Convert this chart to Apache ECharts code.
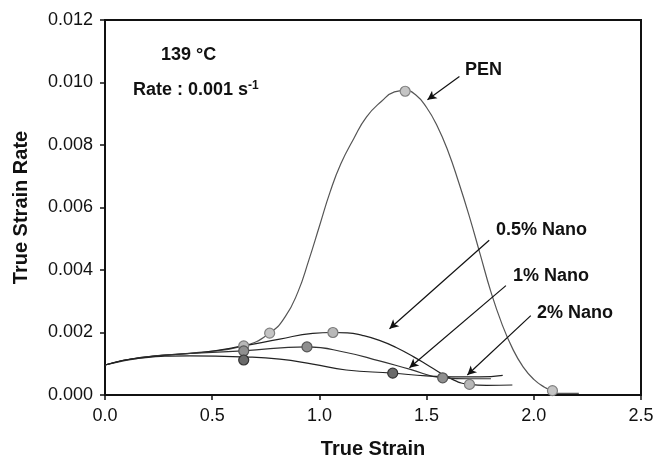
<!DOCTYPE html>
<html>
<head>
<meta charset="utf-8">
<script src="https://cdn.jsdelivr.net/npm/echarts@6/dist/echarts.min.js"></script>
<style>
  html, body { margin: 0; padding: 0; background: #fff; }
  #chart { width: 654px; height: 456px; }
</style>
</head>
<body>
<div id="chart"></div>
<script>
// curve data (true strain, true strain rate)
const penX = [0, 0.2, 0.45, 0.647, 0.768, 0.84, 0.9, 0.95, 1.0, 1.05, 1.1, 1.16, 1.22, 1.29, 1.35, 1.40, 1.45, 1.5, 1.55, 1.6, 1.65, 1.7, 1.75, 1.8, 1.85, 1.9, 1.95, 2.0, 2.05, 2.087, 2.11, 2.21];
const penY = [0.00096, 0.00122, 0.00137, 0.00157, 0.00198, 0.0025, 0.0033, 0.0043, 0.0054, 0.0065, 0.0074, 0.0082, 0.0089, 0.0094, 0.0097, 0.00975, 0.0096, 0.0092, 0.0086, 0.0078, 0.0068, 0.0057, 0.0045, 0.0033, 0.0023, 0.0015, 0.0009, 0.0005, 0.00025, 0.00014, 0.00005, 0.00005];

const nano05X = [0, 0.163, 0.45, 0.647, 0.815, 0.969, 1.063, 1.13, 1.2, 1.28, 1.358, 1.44, 1.513, 1.62, 1.70, 1.78, 1.9];
const nano05Y = [0.00096, 0.0012, 0.00136, 0.00157, 0.00179, 0.00197, 0.0020, 0.00199, 0.00191, 0.00175, 0.00152, 0.00122, 0.00092, 0.0005, 0.00034, 0.00031, 0.00032];

const nano1X = [0, 0.163, 0.45, 0.642, 0.942, 1.125, 1.28, 1.42, 1.575, 1.7, 1.8];
const nano1Y = [0.00096, 0.0012, 0.00135, 0.00141, 0.00154, 0.00136, 0.00109, 0.00083, 0.00055, 0.00052, 0.00052];

const nano2X = [0, 0.163, 0.396, 0.642, 0.815, 0.969, 1.125, 1.342, 1.498, 1.62, 1.746, 1.855];
const nano2Y = [0.00096, 0.00118, 0.00125, 0.00122, 0.00115, 0.00099, 0.0008, 0.0007, 0.00061, 0.00058, 0.00058, 0.00063];

// circle markers on the curves
const penMarkX = [0.768, 1.40, 2.087];
const penMarkY = [0.00198, 0.00972, 0.00014];
const nano05MarkX = [0.647, 1.063, 1.70];
const nano05MarkY = [0.00157, 0.0020, 0.00034];
const nano1MarkX = [0.647, 0.942, 1.575];
const nano1MarkY = [0.00141, 0.00154, 0.00055];
const nano2MarkX = [0.647, 1.342];
const nano2MarkY = [0.00112, 0.0007];

// arrows from the labels to the curves: [x1, y1, x2, y2]
const arrowPen = [1.653, 0.01019, 1.504, 0.00945];
const arrow05 = [1.792, 0.00495, 1.327, 0.00212];
const arrow1 = [1.870, 0.0035, 1.420, 0.00087];
const arrow2 = [1.986, 0.00254, 1.69, 0.00064];

const xTicks = [0, 0.5, 1.0, 1.5, 2.0, 2.5];
const yTicks = [0, 0.002, 0.004, 0.006, 0.008, 0.010, 0.012];

const FONT = 'Liberation Sans, Arial, sans-serif';

function pairs(xs, ys) {
  return xs.map((x, i) => [x, ys[i]]);
}

function curve(name, xs, ys, color) {
  return {
    name: name,
    type: 'line',
    data: pairs(xs, ys),
    smooth: 0.5,
    showSymbol: false,
    lineStyle: { color: color, width: 1.2 },
    z: 2
  };
}

function marks(name, xs, ys, fill, border) {
  return {
    name: name,
    type: 'scatter',
    data: pairs(xs, ys),
    symbolSize: 10,
    itemStyle: { color: fill, borderColor: border, borderWidth: 1.2, opacity: 1 },
    z: 4
  };
}

function arrow(a) {
  return [
    { coord: [a[0], a[1]], symbol: 'none' },
    { coord: [a[2], a[3]], symbol: 'arrow' }
  ];
}

const chart = echarts.init(document.getElementById('chart'));

const series = [
  curve('PEN', penX, penY, '#555'),
  curve('0.5% Nano', nano05X, nano05Y, '#222'),
  curve('1% Nano', nano1X, nano1Y, '#333'),
  curve('2% Nano', nano2X, nano2Y, '#222'),
  marks('PEN m', penMarkX, penMarkY, '#c4c4c4', '#808080'),
  marks('0.5 m', nano05MarkX, nano05MarkY, '#b8b8b8', '#7a7a7a'),
  marks('1 m', nano1MarkX, nano1MarkY, '#8f8f8f', '#555'),
  marks('2 m', nano2MarkX, nano2MarkY, '#6a6a6a', '#333')
];

// arrows hang off the first series
series[0].markLine = {
  silent: true,
  symbolSize: [7, 9],
  label: { show: false },
  lineStyle: { color: '#111', width: 1.2, type: 'solid' },
  data: [arrow(arrowPen), arrow(arrow05), arrow(arrow1), arrow(arrow2)]
};

const labelStyle = { fontFamily: FONT, fontWeight: 'bold', fontSize: 18, fill: '#111', verticalAlign: 'middle', align: 'left' };

function note(text, x, y, extra) {
  return { type: 'text', x: x, y: y, style: Object.assign({ text: text }, labelStyle, extra || {}) };
}

chart.setOption({
  animation: false,
  backgroundColor: '#fff',
  grid: {
    left: 105, right: 13, top: 20, bottom: 61,
    outerBoundsMode: 'none',
    show: true, borderColor: '#111', borderWidth: 2
  },
  xAxis: {
    type: 'value',
    min: 0, max: 2.5, interval: 0.5,
    name: 'True Strain',
    nameLocation: 'middle',
    nameGap: 44,
    nameTextStyle: { fontFamily: FONT, fontWeight: 'bold', fontSize: 20, color: '#111' },
    axisLine: { show: true, lineStyle: { color: '#111', width: 2 } },
    axisTick: { show: true, inside: false, length: 5, lineStyle: { color: '#111', width: 1.5 } },
    axisLabel: {
      fontFamily: FONT, fontSize: 18, color: '#111', margin: 12,
      formatter: v => xTicks.includes(+v.toFixed(1)) ? v.toFixed(1) : ''
    },
    splitLine: { show: false }
  },
  yAxis: {
    type: 'value',
    min: 0, max: 0.012, interval: 0.002,
    name: 'True Strain Rate',
    nameLocation: 'middle',
    nameGap: 74,
    nameRotate: 90,
    nameTextStyle: { fontFamily: FONT, fontWeight: 'bold', fontSize: 20, color: '#111' },
    axisLine: { show: true, lineStyle: { color: '#111', width: 2 } },
    axisTick: { show: true, inside: false, length: 5, lineStyle: { color: '#111', width: 1.5 } },
    axisLabel: {
      fontFamily: FONT, fontSize: 18, color: '#111', margin: 12,
      formatter: v => yTicks.some(t => Math.abs(t - v) < 1e-9) ? v.toFixed(3) : ''
    },
    splitLine: { show: false }
  },
  graphic: [
    note('139 °C', 161, 55),
    note('Rate : 0.001 s{sup|-1}', 133, 90, {
      rich: { sup: { fontFamily: FONT, fontWeight: 'bold', fontSize: 12, verticalAlign: 'top', padding: [0, 0, 8, 0] } }
    }),
    note('PEN', 465, 70),
    note('0.5% Nano', 496, 230),
    note('1% Nano', 513, 276),
    note('2% Nano', 537, 313)
  ],
  series: series
});
</script>
</body>
</html>
